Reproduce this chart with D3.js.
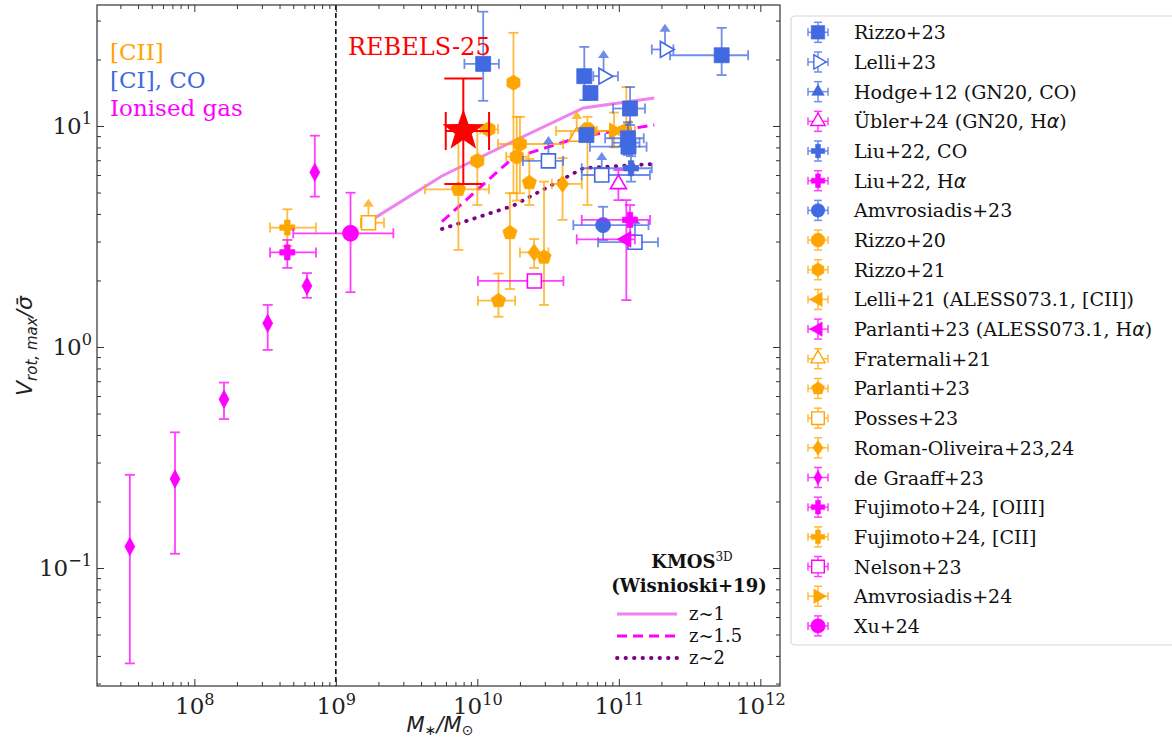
<!DOCTYPE html>
<html>
<head>
<meta charset="utf-8">
<script src="https://cdn.jsdelivr.net/npm/d3@7"></script>
<style>
  body { margin: 0; background: #fff; }
  svg { display: block; }
</style>
</head>
<body>
<div id="chart"></div>
<script>
const W = 1172, H = 739

const ORANGE = "#ffa500", BLUE = "#4169e1", MAGENTA = "#ff00ff", RED = "#ff0000"

// each point: [M*, Vrot/sigma, M lo, M hi, V lo, V hi]  (null = no bar)
const rizzo23 = [
    [1.10e10, 19.1, 8.1e9, 1.42e10, 13.0, 32.9],
    [5.7e10, 16.8, null, null, 13.1, 22.8],
    [6.3e10, 14.1, null, null, null, null],
    [5.9e10, 9.1, null, null, null, null],
    [1.2e11, 12.0, 9.1e10, 1.53e11, 10.1, 15.0],
    [1.16e11, 8.8, 8.0e10, 1.5e11, 7.4, 10.4],
    [1.17e11, 8.06, 6.25e10, 1.57e11, null, null],
    [5.33e11, 20.9, 2.3e11, 8.2e11, 17.0, 27.8]
]
// lower limits: V hi is the arrow tip
const lelli23 = [
    [7.8e10, 16.8, 6.6e10, 9.86e10, null, 22.1],
    [2.12e11, 22.2, 1.71e11, 2.43e11, null, 29.0]
]
const limitsCO = [
    [3.18e10, 6.95, 2.10e10, 4.04e10, null, 9.0],
    [7.57e10, 6.0, 5.47e10, 1.66e11, null, 7.63],
    [1.3e11, 2.98, 7.13e10, 1.89e11, null, 3.92]
]
const hodge12 = [[1.12e11, 8.4, 9.0e10, 1.4e11, 7.6, 9.4]]
const ubler24 = [[9.93e10, 5.46, null, null, 4.62, 6.32]]
const liu22co = [[1.22e11, 6.44, 5.47e10, 1.71e11, 5.6, 7.3]]
const liu22ha = [[1.2e11, 3.76, 5.47e10, 1.66e11, 3.21, 4.39]]
const amvrosiadis23 = [[7.74e10, 3.56, 4.77e10, 1.62e11, 3.05, 4.31]]
const rizzo20 = [[6.0e10, 9.49, 3.6e10, 1.0e11, 4.39, 11.0]]
const rizzo21 = [
    [1.8e10, 15.7, null, null, 4.96, 26.4],
    [1.2e10, 9.66, 1.05e10, 1.4e10, null, null],
    [2.0e10, 8.29, 1.4e10, 4.04e10, 4.96, 11.0],
    [1.9e10, 7.26, 1.6e10, 2.3e10, 4.6, 11.0],
    [1.0e10, 6.95, null, null, 4.39, 9.8]
]
const lelli21 = [[1.13e11, 9.8, null, null, 7.8, 15.0]]
const parlanti23aless = [[1.13e11, 3.07, 5.04e10, 1.3e11, 1.63, 4.62]]
const fraternali21 = [[5.04e10, 8.95, 4.6e10, 5.6e10, null, 11.7]]
const parlanti23 = [
    [7.35e9, 5.17, 4.27e9, 1.21e10, 2.75, 9.42],
    [2.33e10, 5.54, null, null, 4.39, 7.09],
    [1.7e10, 3.29, null, null, 1.83, 4.97],
    [2.96e10, 2.55, null, null, 1.55, 5.6],
    [1.41e10, 1.62, 1.01e10, 1.85e10, 1.37, 2.15]
]
const posses23 = [[1.7e9, 3.65, 1.5e9, 2.19e9, null, 4.68]]
const romanOliveira = [
    [4.0e10, 5.47, 3.36e10, 5.47e10, 3.76, 7.16],
    [2.52e10, 2.68, 2.0e10, 3.18e10, 2.28, 3.08]
]
const deGraaff23 = [
    [3.5e7, 0.125, null, null, 0.037, 0.264],
    [7.3e7, 0.253, null, null, 0.116, 0.411],
    [1.62e8, 0.58, null, null, 0.472, 0.69],
    [3.3e8, 1.28, null, null, 0.97, 1.55],
    [6.25e8, 1.89, null, null, 1.67, 2.16],
    [7.1e8, 6.17, null, null, 4.79, 9.04]
]
const fujimotoOIII = [[4.54e8, 2.68, 3.43e8, 7.24e8, 2.28, 3.05]]
const fujimotoCII = [[4.54e8, 3.47, 3.43e8, 7.24e8, 2.86, 4.20]]
const nelson23 = [[2.53e10, 1.99, 1.01e10, 4.06e10, null, null]]
const amvrosiadis24 = [[9.25e10, 9.5, 7.0e10, 1.3e11, 8.0, 11.5]]
const xu24 = [[1.27e9, 3.27, 5.0e8, 2.55e9, 1.77, 4.99]]
const rebels25 = [[7.96e9, 9.49, 5.98e9, 1.21e10, 5.47, 16.4]]

// KMOS3D (Wisnioski+19) trends
const kmosMass = [1.78e9, 5.62e9, 1.78e10, 5.62e10, 1.78e11]
const kmosZ1 = [3.75, 5.94, 8.51, 12.06, 13.4]
const kmosZ15 = [null, 3.69, 7.16, 9.01, 10.1]
const kmosZ2 = [null, 3.42, 4.35, 6.45, 6.73]

const xTickExp = [8, 9, 10, 11, 12]
const yTickExp = [-1, 0, 1]

const series = [
    { label: "Parlanti+23", data: parlanti23, color: ORANGE, shape: "pentagon", r: 7.5 },
    { label: "Rizzo+21", data: rizzo21, color: ORANGE, shape: "hexagon", r: 7.5 },
    { label: "Roman-Oliveira+23,24", data: romanOliveira, color: ORANGE, shape: "diamond", r: 8.5 },
    { label: "Fraternali+21", data: fraternali21, color: ORANGE, shape: "triUp", r: 8, open: true, lolim: true },
    { label: "Posses+23", data: posses23, color: ORANGE, shape: "square", r: 7, open: true, lolim: true },
    { label: "Fujimoto+24, [CII]", data: fujimotoCII, color: ORANGE, shape: "plus", r: 7.5 },
    { label: "Rizzo+20", data: rizzo20, color: ORANGE, shape: "octagon", r: 9 },
    { label: "Lelli+21 (ALESS073.1, [CII])", data: lelli21, color: ORANGE, shape: "triLeft", r: 8 },
    { label: "Amvrosiadis+24", data: amvrosiadis24, color: ORANGE, shape: "triRight", r: 8 },
    { label: "Hodge+12 (GN20, CO)", data: hodge12, color: BLUE, shape: "triUp", r: 7 },
    { label: "Rizzo+23", data: rizzo23, color: BLUE, shape: "square", r: 7.5 },
    { label: null, data: limitsCO, color: BLUE, shape: "square", r: 7, open: true, lolim: true },
    { label: "Lelli+23", data: lelli23, color: BLUE, shape: "triRight", r: 8, open: true, lolim: true },
    { label: "Liu+22, CO", data: liu22co, color: BLUE, shape: "plus", r: 7.5 },
    { label: "Amvrosiadis+23", data: amvrosiadis23, color: BLUE, shape: "circle", r: 7.5 },
    { label: "Übler+24 (GN20, Hα)", data: ubler24, color: MAGENTA, shape: "triUp", r: 8, open: true },
    { label: "Liu+22, Hα", data: liu22ha, color: MAGENTA, shape: "plus", r: 7.5 },
    { label: "Parlanti+23 (ALESS073.1, Hα)", data: parlanti23aless, color: MAGENTA, shape: "triLeft", r: 8 },
    { label: "de Graaff+23", data: deGraaff23, color: MAGENTA, shape: "thinDiamond", r: 9 },
    { label: "Fujimoto+24, [OIII]", data: fujimotoOIII, color: MAGENTA, shape: "plus", r: 7.5 },
    { label: "Nelson+23", data: nelson23, color: MAGENTA, shape: "square", r: 7, open: true },
    { label: "Xu+24", data: xu24, color: MAGENTA, shape: "circle", r: 8 }
]

const legendOrder = [
    "Rizzo+23", "Lelli+23", "Hodge+12 (GN20, CO)", "Übler+24 (GN20, Hα)", "Liu+22, CO",
    "Liu+22, Hα", "Amvrosiadis+23", "Rizzo+20", "Rizzo+21", "Lelli+21 (ALESS073.1, [CII])",
    "Parlanti+23 (ALESS073.1, Hα)", "Fraternali+21", "Parlanti+23", "Posses+23",
    "Roman-Oliveira+23,24", "de Graaff+23", "Fujimoto+24, [OIII]", "Fujimoto+24, [CII]",
    "Nelson+23", "Amvrosiadis+24", "Xu+24"
]

const plot = { left: 97, right: 780, top: 5, bottom: 686 }

const x = d3.scaleLog().domain([10 ** 7.312, 10 ** 12.139]).range([plot.left, plot.right])
const y = d3.scaleLog().domain([10 ** -1.534, 10 ** 1.5475]).range([plot.bottom, plot.top])

const SERIF = "'DejaVu Serif', serif"
const SANS = "'DejaVu Sans', sans-serif"

const svg = d3.select("#chart").append("svg").attr("width", W).attr("height", H)

// ---- marker shapes ---------------------------------------------------
function polygon(n, r, rot) {
    const pts = d3.range(n).map(i => {
        const a = rot + i * 2 * Math.PI / n
        return [r * Math.cos(a), r * Math.sin(a)]
    })
    return "M" + pts.map(p => p.join(",")).join("L") + "Z"
}
function shapePath(shape, r) {
    const up = -Math.PI / 2
    switch (shape) {
        case "square": return `M${-r},${-r}H${r}V${r}H${-r}Z`
        case "circle": { const p = d3.path(); p.arc(0, 0, r, 0, 2 * Math.PI); return p.toString() }
        case "triUp": return polygon(3, r * 1.15, up)
        case "triRight": return polygon(3, r * 1.15, 0)
        case "triLeft": return polygon(3, r * 1.15, Math.PI)
        case "pentagon": return polygon(5, r, up)
        case "hexagon": return polygon(6, r, up)
        case "octagon": return polygon(8, r, Math.PI / 8)
        case "diamond": return `M0,${-r}L${r * 0.72},0L0,${r}L${-r * 0.72},0Z`
        case "thinDiamond": return `M0,${-r}L${r * 0.55},0L0,${r}L${-r * 0.55},0Z`
        case "plus": {
            const t = r * 0.36
            return `M${-t},${-r}H${t}V${-t}H${r}V${t}H${t}V${r}H${-t}V${t}H${-r}V${-t}H${-t}Z`
        }
        case "star": {
            const pts = d3.range(10).map(i => {
                const rr = i % 2 ? r * 0.4 : r
                const a = up + i * Math.PI / 5
                return [rr * Math.cos(a), rr * Math.sin(a)]
            })
            return "M" + pts.map(p => p.join(",")).join("L") + "Z"
        }
    }
}

// ---- frame, reference line, trends -----------------------------------
const clipId = "plotclip"
svg.append("clipPath").attr("id", clipId).append("rect")
    .attr("x", plot.left).attr("y", plot.top)
    .attr("width", plot.right - plot.left).attr("height", plot.bottom - plot.top)

const gPlot = svg.append("g").attr("clip-path", `url(#${clipId})`)

gPlot.append("line")
    .attr("x1", x(1e9)).attr("x2", x(1e9))
    .attr("y1", plot.top).attr("y2", plot.bottom)
    .attr("stroke", "#111").attr("stroke-width", 1.6).attr("stroke-dasharray", "5,3")

const trendLine = d3.line()
    .defined(d => d[1] != null)
    .x(d => x(d[0])).y(d => y(d[1]))

const trends = [
    { values: kmosZ1, color: "#ee82ee", dash: null, cap: "butt", width: 3, label: "z~1" },
    { values: kmosZ15, color: MAGENTA, dash: "10,6", cap: "butt", width: 3, label: "z~1.5" },
    { values: kmosZ2, color: "#800080", dash: "0.5,8", cap: "round", width: 3.8, label: "z~2" }
]
trends.forEach(t => {
    gPlot.append("path")
        .datum(kmosMass.map((m, i) => [m, t.values[i]]))
        .attr("d", trendLine)
        .attr("fill", "none")
        .attr("stroke", t.color)
        .attr("stroke-width", t.width)
        .attr("stroke-linecap", t.cap)
        .attr("stroke-dasharray", t.dash)
})

// ---- error bars + markers --------------------------------------------
function drawErrors(g, d, color, cap, lw, lolim) {
    const [m, v, mLo, mHi, vLo, vHi] = d
    const px = x(m), py = y(v)
    const e = g.append("g").attr("stroke", color).attr("stroke-width", lw).attr("fill", color)
    if (mLo != null && mHi != null) {
        e.append("line").attr("x1", x(mLo)).attr("x2", x(mHi)).attr("y1", py).attr("y2", py)
        e.append("line").attr("x1", x(mLo)).attr("x2", x(mLo)).attr("y1", py - cap).attr("y2", py + cap)
        e.append("line").attr("x1", x(mHi)).attr("x2", x(mHi)).attr("y1", py - cap).attr("y2", py + cap)
    }
    if (lolim) {
        const ty = y(vHi)
        e.append("line").attr("x1", px).attr("x2", px).attr("y1", py).attr("y2", ty + 6)
        e.append("path").attr("stroke", "none")
            .attr("d", `M${px},${ty}L${px + 5.5},${ty + 8}L${px - 5.5},${ty + 8}Z`)
    } else if (vLo != null && vHi != null) {
        e.append("line").attr("x1", px).attr("x2", px).attr("y1", y(vLo)).attr("y2", y(vHi))
        e.append("line").attr("x1", px - cap).attr("x2", px + cap).attr("y1", y(vLo)).attr("y2", y(vLo))
        e.append("line").attr("x1", px - cap).attr("x2", px + cap).attr("y1", y(vHi)).attr("y2", y(vHi))
    }
}

series.forEach(s => {
    const g = gPlot.append("g")
    s.data.forEach(d => {
        drawErrors(g.append("g").attr("opacity", 0.75), d, s.color, 5, 1.8, s.lolim)
        g.append("path")
            .attr("transform", `translate(${x(d[0])},${y(d[1])})`)
            .attr("d", shapePath(s.shape, s.r))
            .attr("fill", s.open ? "#fff" : s.color)
            .attr("stroke", s.color)
            .attr("stroke-width", s.open ? 1.6 : 0.8)
    })
})

// REBELS-25
rebels25.forEach(d => {
    drawErrors(gPlot.append("g"), d, RED, 19, 2, false)
    gPlot.append("path")
        .attr("transform", `translate(${x(d[0])},${y(d[1])})`)
        .attr("d", shapePath("star", 22))
        .attr("fill", RED)
})

// ---- axes ------------------------------------------------------------
const xMinor = [], yMinor = []
for (let e = 7; e <= 12; e++) for (let k = 2; k <= 9; k++) {
    const v = k * 10 ** e
    if (v > x.domain()[0] && v < x.domain()[1]) xMinor.push(v)
}
for (let e = -2; e <= 1; e++) for (let k = 2; k <= 9; k++) {
    const v = k * 10 ** e
    if (v > y.domain()[0] && v < y.domain()[1]) yMinor.push(v)
}
const xMajor = xTickExp.map(e => 10 ** e)
const yMajor = yTickExp.map(e => 10 ** e)

function styleAxis(g) {
    g.select(".domain").remove()
    g.selectAll(".tick line").attr("stroke", "#333").attr("stroke-width", 1)
}
function powerLabels(g, fs) {
    g.selectAll(".tick text").each(function (d) {
        const t = d3.select(this)
        const ex = Math.round(Math.log10(d))
        t.text(null).attr("font-family", SERIF).attr("font-size", fs).attr("fill", "#222")
        t.append("tspan").text("10")
        t.append("tspan").attr("dy", -fs * 0.42).attr("font-size", fs * 0.7)
            .text(ex < 0 ? "\u2212" + (-ex) : ex)
    })
}

const gx = svg.append("g").attr("transform", `translate(0,${plot.bottom})`)
gx.call(d3.axisBottom(x).tickValues(xMajor).tickSize(-7).tickPadding(12))
styleAxis(gx); powerLabels(gx, 23)
const gxm = svg.append("g").attr("transform", `translate(0,${plot.bottom})`)
gxm.call(d3.axisBottom(x).tickValues(xMinor).tickSize(-4).tickFormat(""))
styleAxis(gxm)

const gxt = svg.append("g").attr("transform", `translate(0,${plot.top})`)
gxt.call(d3.axisTop(x).tickValues(xMajor).tickSize(-7).tickFormat(""))
styleAxis(gxt)
const gxtm = svg.append("g").attr("transform", `translate(0,${plot.top})`)
gxtm.call(d3.axisTop(x).tickValues(xMinor).tickSize(-4).tickFormat(""))
styleAxis(gxtm)

const gy = svg.append("g").attr("transform", `translate(${plot.left},0)`)
gy.call(d3.axisLeft(y).tickValues(yMajor).tickSize(-7).tickPadding(5))
styleAxis(gy); powerLabels(gy, 23)
const gym = svg.append("g").attr("transform", `translate(${plot.left},0)`)
gym.call(d3.axisLeft(y).tickValues(yMinor).tickSize(-4).tickFormat(""))
styleAxis(gym)

const gyr = svg.append("g").attr("transform", `translate(${plot.right},0)`)
gyr.call(d3.axisRight(y).tickValues(yMajor).tickSize(-7).tickFormat(""))
styleAxis(gyr)
const gyrm = svg.append("g").attr("transform", `translate(${plot.right},0)`)
gyrm.call(d3.axisRight(y).tickValues(yMinor).tickSize(-4).tickFormat(""))
styleAxis(gyrm)

svg.append("rect")
    .attr("x", plot.left).attr("y", plot.top)
    .attr("width", plot.right - plot.left).attr("height", plot.bottom - plot.top)
    .attr("fill", "none").attr("stroke", "#333").attr("stroke-width", 1.2)

// axis titles
const xt = svg.append("text").attr("x", 440).attr("y", 732)
    .attr("text-anchor", "middle").attr("font-family", SANS).attr("font-size", 21).attr("fill", "#222")
xt.append("tspan").attr("font-style", "italic").text("M")
xt.append("tspan").attr("font-size", 14).attr("dy", 3).text("\u2217")
xt.append("tspan").attr("dy", -3).attr("font-style", "italic").text("/M")
xt.append("tspan").attr("font-size", 14).attr("dy", 3).text("\u2299")

const yt = svg.append("text").attr("transform", "translate(32,346) rotate(-90)")
    .attr("text-anchor", "middle").attr("font-family", SANS).attr("font-size", 22)
    .attr("font-style", "italic").attr("fill", "#222")
yt.append("tspan").text("V")
yt.append("tspan").attr("font-size", 15).attr("dy", 5).text("rot, max")
yt.append("tspan").attr("dy", -5).text("/\u03c3\u0304")

// ---- annotations -----------------------------------------------------
const notes = [
    { text: "[CII]", color: ORANGE, y: 60 },
    { text: "[CI], CO", color: BLUE, y: 88 },
    { text: "Ionised gas", color: MAGENTA, y: 116 }
]
notes.forEach(n => svg.append("text").attr("x", 110).attr("y", n.y)
    .attr("font-family", SERIF).attr("font-size", 23).attr("fill", n.color).text(n.text))
svg.append("text").attr("x", 348).attr("y", 55)
    .attr("font-family", SERIF).attr("font-size", 24).attr("fill", RED).text("REBELS-25")

// KMOS3D legend inside the axes
const kl = svg.append("g").attr("font-family", SERIF).attr("fill", "#111")
const kt = kl.append("text").attr("x", 692).attr("y", 568).attr("text-anchor", "middle")
    .attr("font-size", 18).attr("font-weight", "bold")
kt.append("tspan").text("KMOS")
kt.append("tspan").attr("dy", -7).attr("font-size", 12).attr("font-weight", "normal").text("3D")
kl.append("text").attr("x", 689).attr("y", 592).attr("text-anchor", "middle")
    .attr("font-size", 18).attr("font-weight", "bold").text("(Wisnioski+19)")
trends.forEach((t, i) => {
    const ly = 614 + i * 22
    kl.append("line").attr("x1", 617).attr("x2", 677).attr("y1", ly).attr("y2", ly)
        .attr("stroke", t.color).attr("stroke-width", t.width).attr("stroke-dasharray", t.dash)
        .attr("stroke-linecap", t.cap)
    kl.append("text").attr("x", 689).attr("y", ly + 6).attr("font-size", 18).text(t.label)
})

// ---- main legend -----------------------------------------------------
const leg = svg.append("g")
leg.append("rect").attr("x", 791).attr("y", 16).attr("width", 400).attr("height", 629)
    .attr("rx", 4).attr("fill", "#fff").attr("stroke", "#d8d8d8").attr("stroke-width", 1.2)

function labelText(sel, label) {
    const parts = label.split("α")
    parts.forEach((p, i) => {
        if (p) sel.append("tspan").text(p)
        if (i < parts.length - 1) sel.append("tspan").attr("font-family", SANS).attr("font-style", "italic").text("α")
    })
}

legendOrder.forEach((name, i) => {
    const s = series.find(d => d.label === name)
    const cy = 32.3 + i * 29.68, cx = 818
    const g = leg.append("g")
    const e = g.append("g").attr("stroke", s.color).attr("stroke-width", 1.5).attr("opacity", 0.75)
    e.append("line").attr("x1", cx - 10).attr("x2", cx + 10).attr("y1", cy).attr("y2", cy)
    e.append("line").attr("x1", cx - 10).attr("x2", cx - 10).attr("y1", cy - 4).attr("y2", cy + 4)
    e.append("line").attr("x1", cx + 10).attr("x2", cx + 10).attr("y1", cy - 4).attr("y2", cy + 4)
    e.append("line").attr("x1", cx).attr("x2", cx).attr("y1", cy - 10).attr("y2", cy + 10)
    e.append("line").attr("x1", cx - 4).attr("x2", cx + 4).attr("y1", cy - 10).attr("y2", cy - 10)
    e.append("line").attr("x1", cx - 4).attr("x2", cx + 4).attr("y1", cy + 10).attr("y2", cy + 10)
    g.append("path").attr("transform", `translate(${cx},${cy})`)
        .attr("d", shapePath(s.shape, Math.min(s.r, 8) * 0.9))
        .attr("fill", s.open ? "#fff" : s.color)
        .attr("stroke", s.color).attr("stroke-width", s.open ? 1.4 : 0.6)
    const t = g.append("text").attr("x", 854).attr("y", cy + 7)
        .attr("font-family", SERIF).attr("font-size", 19).attr("fill", "#111")
    labelText(t, name)
})
</script>
</body>
</html>
